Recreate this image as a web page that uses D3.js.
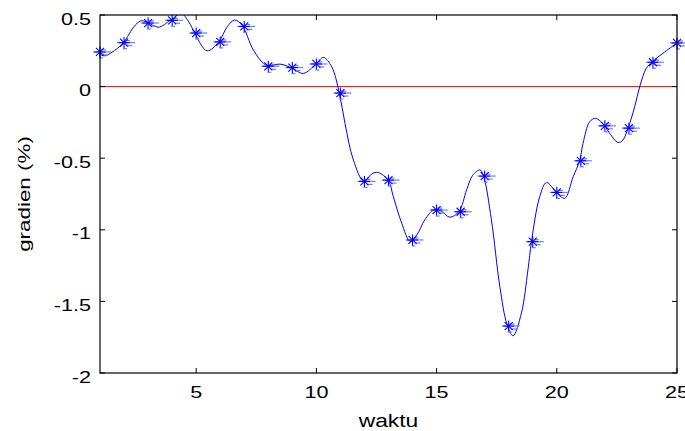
<!DOCTYPE html>
<html>
<head>
<meta charset="utf-8">
<script src="https://cdn.jsdelivr.net/npm/d3@7"></script>
<style>
  html, body { margin: 0; padding: 0; background: #fff; }
  svg { display: block; }
  text { font-family: "Liberation Sans", Arial, sans-serif; fill: #000; }
</style>
</head>
<body>
<svg id="chart" width="685" height="431"></svg>
<script>
// ---- data ----
const markerX = [1,2,3,4,5,6,7,8,9,10,11,12,13,14,15,16,17,18,19,20,21,22,23,24,25];
const markerY = [0.242,0.307,0.444,0.463,0.374,0.312,0.42,0.142,0.133,0.158,-0.045,-0.662,-0.653,-1.071,-0.862,-0.874,-0.625,-1.672,-1.083,-0.739,-0.518,-0.274,-0.29,0.17,0.305];

const curveX = [1.0,1.2,1.5,1.94,2.47,2.74,3.0,3.43,3.92,4.38,4.7,4.95,5.45,5.93,6.3,6.6,6.9,7.38,7.8,8.0,8.49,8.98,9.46,9.99,10.29,10.64,10.95,11.19,11.54,11.98,12.3,12.57,12.99,13.2,13.55,13.9,14.2,14.51,14.9,15.2,15.55,15.93,16.25,16.5,16.8,16.94,17.28,17.63,17.93,18.18,18.53,18.8,18.95,19.29,19.57,19.99,20.33,20.68,20.95,21.09,21.37,21.62,21.99,22.2,22.55,22.75,22.96,23.24,23.45,23.72,23.97,24.41,24.97,25.0];
const curveY = [0.225,0.215,0.24,0.30,0.43,0.46,0.445,0.415,0.462,0.51,0.45,0.37,0.25,0.31,0.42,0.465,0.43,0.255,0.162,0.145,0.157,0.13,0.092,0.16,0.204,0.138,-0.043,-0.257,-0.513,-0.664,-0.61,-0.60,-0.655,-0.768,-0.954,-1.08,-1.03,-0.93,-0.86,-0.87,-0.912,-0.873,-0.72,-0.62,-0.582,-0.617,-0.93,-1.396,-1.66,-1.74,-1.58,-1.28,-1.08,-0.768,-0.67,-0.738,-0.78,-0.63,-0.517,-0.397,-0.245,-0.222,-0.273,-0.327,-0.39,-0.373,-0.292,-0.141,0.0,0.127,0.173,0.232,0.301,0.305];

const xTicks = [5,10,15,20,25];
const yTicks = [-2,-1.5,-1,-0.5,0,0.5];
const xLabel = "waktu";
const yLabel = "gradien (%)";

// ---- layout ----
const L = 100, R = 677, T = 15, B = 373;
const svg = d3.select("#chart");
const x = d3.scaleLinear().domain([1,25]).range([L,R]);
const y = d3.scaleLinear().domain([-2,0.5]).range([B,T]);

svg.append("defs").append("clipPath").attr("id","clip")
  .append("rect").attr("x",L).attr("y",T).attr("width",R-L).attr("height",B-T);

// zero line
svg.append("line").attr("x1",L).attr("x2",R).attr("y1",y(0)).attr("y2",y(0))
  .attr("stroke","#ff0000").attr("stroke-width",1);

// curve
const pts = curveX.map((d,i)=>[d,curveY[i]]);
svg.append("path").datum(pts)
  .attr("clip-path","url(#clip)")
  .attr("d", d3.line().x(d=>x(d[0])).y(d=>y(d[1])).curve(d3.curveCatmullRom.alpha(0.5)))
  .attr("fill","none").attr("stroke","#0000ff").attr("stroke-width",1);

// markers (asterisk)
const mk = svg.append("g");
markerX.forEach((xv,i)=>{
  const g = mk.append("g").attr("transform",`translate(${x(xv)},${y(markerY[i])})`);
  const light = "#6a7cff";
  [[-7,0,11,0],[3,3,8,3],[-1,6,3,6],[1,-2,6,-2]].forEach(s=>{
    g.append("line").attr("x1",s[0]).attr("y1",s[1]).attr("x2",s[2]).attr("y2",s[3])
      .attr("stroke",light).attr("stroke-width",1.2);
  });
  const r = 5.5, d = 4;
  [[-r,0,r,0],[0,-r,0,r],[-d,-d,d,d],[-d,d,d,-d]].forEach(s=>{
    g.append("line").attr("x1",s[0]).attr("y1",s[1]).attr("x2",s[2]).attr("y2",s[3])
      .attr("stroke","#0000ff").attr("stroke-width",1.1);
  });
});

// frame
svg.append("rect").attr("x",L).attr("y",T).attr("width",R-L).attr("height",B-T)
  .attr("fill","none").attr("stroke","#000").attr("stroke-width",1.2);

// ticks
const tk = 5;
xTicks.forEach(t=>{
  svg.append("line").attr("x1",x(t)).attr("x2",x(t)).attr("y1",B).attr("y2",B-tk).attr("stroke","#000");
  svg.append("line").attr("x1",x(t)).attr("x2",x(t)).attr("y1",T).attr("y2",T+tk).attr("stroke","#000");
  svg.append("g").attr("transform",`translate(${x(t)},398) scale(1.27,1)`)
    .append("text").attr("text-anchor","middle").style("font-size","17px").text(t);
});
yTicks.forEach(t=>{
  svg.append("line").attr("x1",L).attr("x2",L+tk).attr("y1",y(t)).attr("y2",y(t)).attr("stroke","#000");
  svg.append("line").attr("x1",R).attr("x2",R-tk).attr("y1",y(t)).attr("y2",y(t)).attr("stroke","#000");
  svg.append("g").attr("transform",`translate(91,${y(t)+9.5}) scale(1.27,1)`)
    .append("text").attr("text-anchor","end").style("font-size","17px").text(t);
});

// axis labels
svg.append("g").attr("transform",`translate(${(L+R)/2},427) scale(1.2,1)`)
  .append("text").attr("text-anchor","middle").style("font-size","19px").text(xLabel);
svg.append("g").attr("transform",`translate(30,${(T+B)/2}) rotate(-90) scale(1.4,1)`)
  .append("text").attr("text-anchor","middle").style("font-size","16px").text(yLabel);
</script>
</body>
</html>
